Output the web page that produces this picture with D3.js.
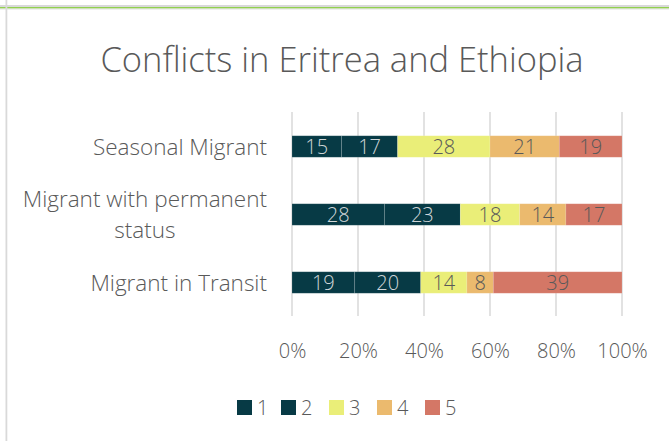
<!DOCTYPE html>
<html>
<head>
<meta charset="utf-8">
<script src="https://cdn.jsdelivr.net/npm/d3@7"></script>
<style>
  html, body { margin: 0; padding: 0; background: #fff; }
  svg { display: block; }
  text { font-family: "Open Sans", "Segoe UI", sans-serif; font-weight: 300; }
</style>
</head>
<body>
<svg id="chart" width="669" height="441"></svg>
<script>
// Chart data
const categories = ["Seasonal Migrant", "Migrant with permanent status", "Migrant in Transit"];
const seriesKeys = ["1", "2", "3", "4", "5"];
const seasonal = [15, 17, 28, 21, 19];
const permanent = [28, 23, 18, 14, 17];
const transit = [19, 20, 14, 8, 39];
const tickValues = [0, 0.2, 0.4, 0.6, 0.8, 1.0];
const title = "Conflicts in Eritrea and Ethiopia";

const colors = ["#073a45", "#073a45", "#eaee78", "#ebba6e", "#d47766"];
const labelColors = ["#d0d6d8", "#d0d6d8", "#595959", "#595959", "#595959"];

const rows = [seasonal, permanent, transit].map((vals, i) => {
  const obj = { category: categories[i] };
  seriesKeys.forEach((k, j) => obj[k] = vals[j]);
  return obj;
});

const svg = d3.select("#chart");
const W = 669, H = 441;

// Frame decoration
svg.append("rect").attr("x", 0).attr("y", 5).attr("width", W).attr("height", 2).attr("fill", "#d9d9d9");
svg.append("rect").attr("x", 0).attr("y", 7).attr("width", W).attr("height", 1.6).attr("fill", "#92d050");
svg.append("rect").attr("x", 0).attr("y", 8.6).attr("width", W).attr("height", 1).attr("fill", "#e4e4e4");
svg.append("rect").attr("x", 5.5).attr("y", 0).attr("width", 1.8).attr("height", H).attr("fill", "#d9d9d9");

// Title
svg.append("text")
  .attr("x", 342).attr("y", 72)
  .attr("text-anchor", "middle")
  .attr("font-size", 34.5)
  .attr("fill", "#595959")
  .text(title);

const x = d3.scaleLinear().domain([0, 1]).range([292, 622]);
const y = d3.scaleBand().domain(categories).range([112.5, 316.5]).paddingInner(0.684).paddingOuter(0.342);

// Gridlines
svg.append("g").selectAll("line").data(tickValues).join("line")
  .attr("x1", d => x(d)).attr("x2", d => x(d))
  .attr("y1", 112).attr("y2", 316)
  .attr("stroke", "#d9d9d9").attr("stroke-width", 1.5);

// Stacked bars (100%)
const stack = d3.stack().keys(seriesKeys).offset(d3.stackOffsetExpand);
const series = stack(rows);

const groups = svg.append("g").selectAll("g").data(series).join("g")
  .attr("fill", (d, i) => colors[i]);

groups.selectAll("rect").data(d => d.map(p => ({ p, key: d.key }))).join("rect")
  .attr("x", d => x(d.p[0]))
  .attr("width", d => x(d.p[1]) - x(d.p[0]))
  .attr("y", d => y(d.p.data.category))
  .attr("height", y.bandwidth())
  .attr("stroke", "rgba(255,255,255,0.18)")
  .attr("stroke-width", 0.75);

// Value labels
series.forEach((s, i) => {
  svg.append("g").selectAll("text").data(s).join("text")
    .attr("x", d => (x(d[0]) + x(d[1])) / 2)
    .attr("y", d => y(d.data.category) + y.bandwidth() / 2 + 7)
    .attr("text-anchor", "middle")
    .attr("font-size", 20)
    .attr("fill", labelColors[i])
    .text(d => d.data[s.key]);
});

// Category axis labels (wrapped lines are centred under the first line)
const catLabels = {
  "Seasonal Migrant": ["Seasonal Migrant"],
  "Migrant with permanent status": ["Migrant with permanent", "status"],
  "Migrant in Transit": ["Migrant in Transit"]
};
const labelRight = 267;
categories.forEach(c => {
  const lines = catLabels[c];
  const cy = y(c) + y.bandwidth() / 2;
  const lh = 31;
  let firstWidth = 0;
  lines.forEach((ln, k) => {
    const t = svg.append("text")
      .attr("y", cy + 8 + (k - (lines.length - 1) / 2) * lh)
      .attr("font-size", 22.5)
      .attr("fill", "#595959")
      .text(ln);
    if (k === 0) {
      t.attr("x", labelRight).attr("text-anchor", "end");
      firstWidth = t.node().getComputedTextLength();
    } else {
      t.attr("x", labelRight - firstWidth / 2).attr("text-anchor", "middle");
    }
  });
});

// X axis tick labels
const xAxis = d3.axisBottom(x).tickValues(tickValues).tickFormat(d3.format(".0%")).tickSize(0).tickPadding(0);
const ax = svg.append("g").attr("transform", "translate(0,340)").call(xAxis);
ax.select(".domain").remove();
ax.selectAll("text")
  .attr("font-size", 20)
  .attr("font-family", "\"Open Sans\", sans-serif")
  .attr("font-weight", 300)
  .attr("fill", "#595959")
  .attr("dy", "0.9em");

// Legend
const legendX = [237, 281, 329, 377, 425];
const legend = svg.append("g").selectAll("g").data(seriesKeys).join("g")
  .attr("transform", (d, i) => `translate(${legendX[i]},400)`);
legend.append("rect").attr("width", 15).attr("height", 15).attr("fill", (d, i) => colors[i]);
legend.append("text").attr("x", 20).attr("y", 15).attr("font-size", 20).attr("fill", "#595959").text(d => d);
</script>
</body>
</html>
